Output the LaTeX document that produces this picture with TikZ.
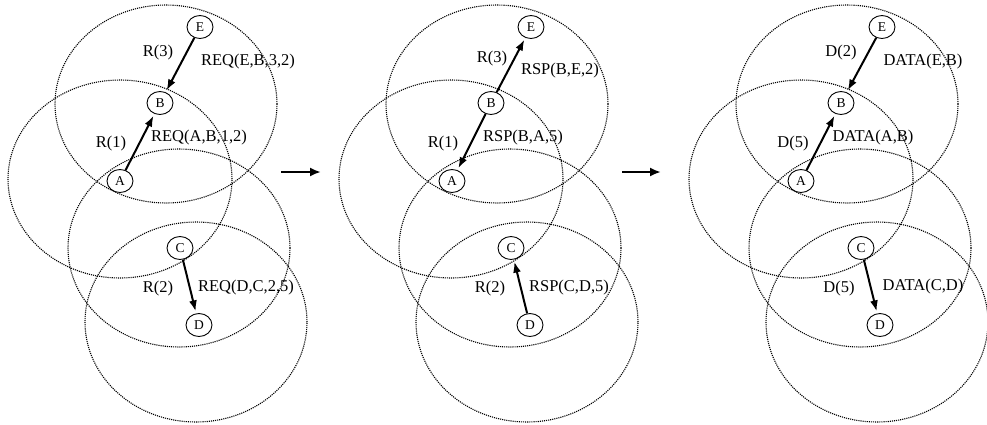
\documentclass[tikz,border=0pt]{standalone}
\usepackage{fontspec}
\setmainfont{Liberation Serif}
\usetikzlibrary{shapes.geometric,arrows.meta}

\begin{document}
\begin{tikzpicture}[x=1pt,y=-1pt,
 every node/.style = {font=\fontsize{16.5}{19}\selectfont},
 station/.style = {shape=ellipse, draw, fill=white, inner sep=0pt, line width=0.9pt,
   minimum width=26pt, minimum height=23pt, font=\fontsize{13.5}{15}\selectfont},
 coverage/.style = {densely dotted, line width=1.1pt},
 msg/.style = {line width=2pt, -{Latex[length=11pt,width=8pt]}, shorten >=2pt},
 nextstage/.style = {line width=2.2pt, -{Latex[length=11pt,width=9pt]}}]
 \useasboundingbox (0,0) rectangle (987,424);

 % route request
 \begin{scope}
  \draw[coverage] (166,104) ellipse (111pt and 99pt);
  \draw[coverage] (120,179) ellipse (112pt and 99pt);
  \draw[coverage] (179,248) ellipse (111pt and 99pt);
  \draw[coverage] (196,322) ellipse (111pt and 100pt);
  \node[station] (E1) at (200,27) {E};
  \node[station] (B1) at (160,103) {B};
  \node[station] (A1) at (120,181) {A};
  \node[station] (C1) at (180,248) {C};
  \node[station] (D1) at (199,325) {D};
  \draw[msg] (E1) -- (B1);
  \draw[msg] (A1) -- (B1);
  \draw[msg] (C1) -- (D1);
  \node (lr3) at (158,53) {R(3)};
  \node (lreqEB) at (248,62) {REQ(E,B,3,2)};
  \node (lr1) at (111,144) {R(1)};
  \node (lreqAB) at (199,138) {REQ(A,B,1,2)};
  \node (lr2) at (158,289) {R(2)};
  \node (lreqDC) at (246,288) {REQ(D,C,2,5)};
 \end{scope}

 \coordinate (go1s) at (281,172);
 \coordinate (go1e) at (321,172);
 \draw[nextstage] (go1s) -- (go1e);

 % route response
 \begin{scope}[xshift=331pt]
  \draw[coverage] (166,104) ellipse (111pt and 99pt);
  \draw[coverage] (120,179) ellipse (112pt and 99pt);
  \draw[coverage] (179,248) ellipse (111pt and 99pt);
  \draw[coverage] (196,322) ellipse (111pt and 100pt);
  \node[station] (E2) at (200,27) {E};
  \node[station] (B2) at (160,103) {B};
  \node[station] (A2) at (121,181) {A};
  \node[station] (C2) at (180,248) {C};
  \node[station] (D2) at (199,325) {D};
  \draw[msg] (B2) -- (E2);
  \draw[msg] (B2) -- (A2);
  \draw[msg] (D2) -- (C2);
  \node (mr3) at (161,59) {R(3)};
  \node (mrspBE) at (229,71) {RSP(B,E,2)};
  \node (mr1) at (112,144) {R(1)};
  \node (mrspBA) at (192,138) {RSP(B,A,5)};
  \node (mr2) at (159,289) {R(2)};
  \node (mrspCD) at (238,288) {RSP(C,D,5)};
 \end{scope}

 \coordinate (go2s) at (622,172);
 \coordinate (go2e) at (661,172);
 \draw[nextstage] (go2s) -- (go2e);

 % data transfer
 \begin{scope}[xshift=681pt]
  \draw[coverage] (166,104) ellipse (111pt and 99pt);
  \draw[coverage] (120,179) ellipse (112pt and 99pt);
  \draw[coverage] (179,248) ellipse (111pt and 99pt);
  \draw[coverage] (196,322) ellipse (111pt and 100pt);
  \node[station] (E3) at (201,27) {E};
  \node[station] (B3) at (160,103) {B};
  \node[station] (A3) at (120,181) {A};
  \node[station] (C3) at (180,248) {C};
  \node[station] (D3) at (199,325) {D};
  \draw[msg] (E3) -- (B3);
  \draw[msg] (A3) -- (B3);
  \draw[msg] (C3) -- (D3);
  \node (rd2) at (160,53) {D(2)};
  \node (rdataEB) at (242,62) {DATA(E,B)};
  \node (rd5a) at (112,144) {D(5)};
  \node (rdataAB) at (192,138) {DATA(A,B)};
  \node (rd5b) at (158,289) {D(5)};
  \node (rdataCD) at (242,287) {DATA(C,D)};
 \end{scope}
\end{tikzpicture}
\end{document}
